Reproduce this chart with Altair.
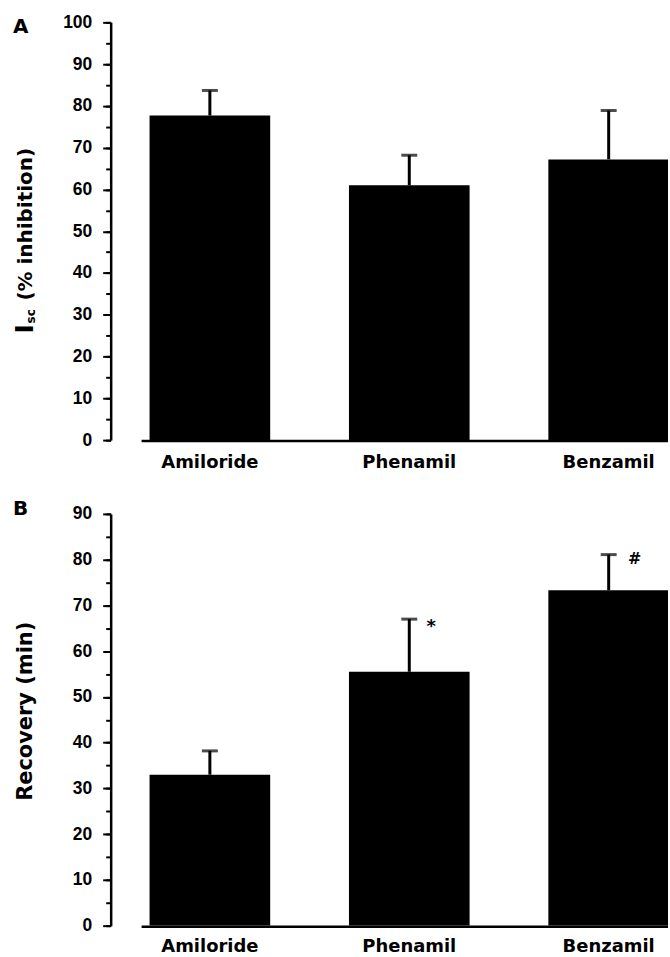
import altair as alt
import pandas as pd

# ---- data ----
categories = ["Amiloride", "Phenamil", "Benzamil"]
inhibition_mean = [77.7, 61.0, 67.2]
inhibition_sem = [6.0, 7.2, 11.7]
recovery_mean = [33.0, 55.5, 73.3]
recovery_sem = [5.2, 11.5, 7.8]
recovery_marks = ["", "*", "#"]

inhib_major = list(range(0, 101, 10))
inhib_minor = list(range(0, 101, 5))
recov_major = list(range(0, 91, 10))
recov_minor = list(range(0, 91, 5))

PLOT_W = 559
BOLD_SANS = "DejaVu Sans"
TICK_FONT = "Liberation Sans"


def frame(means, sems, marks):
    return pd.DataFrame({
        "cat": categories,
        "mean": means,
        "upper": [m + s for m, s in zip(means, sems)],
        "mark": marks,
    })


def xenc():
    scale = alt.Scale(domain=categories, range=[0, 599],
                      paddingInner=0.395, paddingOuter=0.195)
    return alt.X("cat:N", sort=categories, scale=scale, axis=None)


def panel(df, ymax, major, minor, height, label_pad, title_layers, panel_letter, letter_y):
    yscale = alt.Scale(domain=[0, ymax], nice=False, zero=True)
    major_axis = alt.Axis(orient="left", title=None, values=major, grid=False,
                          domainColor="black", domainWidth=2.5,
                          tickColor="black", tickWidth=2, tickSize=8,
                          labelFont=TICK_FONT, labelFontWeight="bold",
                          labelFontSize=17.5, labelColor="black", labelPadding=11)
    minor_axis = alt.Axis(orient="left", title=None, values=minor, grid=False,
                          domain=False, labels=False,
                          tickColor="black", tickWidth=2, tickSize=5)
    base = alt.Chart(df)
    bars = base.mark_bar(color="black", clip=True).encode(
        x=xenc(),
        y=alt.Y("mean:Q", scale=yscale, axis=major_axis),
    )
    stems = base.mark_rule(color="black", strokeWidth=3).encode(
        x=xenc(),
        y=alt.Y("mean:Q", scale=yscale, axis=minor_axis),
        y2="upper:Q",
    )
    caps = base.mark_tick(color="black", size=16, thickness=3).encode(
        x=xenc(),
        y=alt.Y("upper:Q", scale=yscale, axis=None),
    )
    xlabels = base.mark_text(
        font=BOLD_SANS, fontWeight="bold", fontSize=18, color="black",
        align="center", baseline="top"
    ).encode(x=xenc(), y=alt.value(height + label_pad), text="cat:N")
    baseline = alt.Chart(pd.DataFrame({"k": [0]})).mark_rule(
        color="black", strokeWidth=2.5
    ).encode(x=alt.value(31), x2=alt.value(PLOT_W),
             y=alt.value(height + 1))
    letter = alt.Chart(pd.DataFrame({"t": [panel_letter]})).mark_text(
        font=BOLD_SANS, fontWeight="bold", fontSize=20, color="black",
        align="left", baseline="alphabetic"
    ).encode(x=alt.value(-98), y=alt.value(letter_y), text="t:N")
    layers = [bars, stems, caps, xlabels, baseline, letter] + title_layers(df, yscale)
    return alt.layer(*layers).resolve_axis(y="independent").properties(
        width=PLOT_W, height=height)


def top_titles(df, yscale):
    i_txt = alt.Chart(pd.DataFrame({"t": ["I"]})).mark_text(
        font=BOLD_SANS, fontWeight="bold", fontSize=25, color="black",
        angle=270, align="left", baseline="alphabetic"
    ).encode(x=alt.value(-78), y=alt.value(312), text="t:N")
    sc_txt = alt.Chart(pd.DataFrame({"t": ["sc"]})).mark_text(
        font=BOLD_SANS, fontWeight="bold", fontSize=12, color="black",
        angle=270, align="left", baseline="alphabetic"
    ).encode(x=alt.value(-76), y=alt.value(302), text="t:N")
    rest = alt.Chart(pd.DataFrame({"t": ["(% inhibition)"]})).mark_text(
        font=BOLD_SANS, fontWeight="bold", fontSize=20, color="black",
        angle=270, align="left", baseline="alphabetic"
    ).encode(x=alt.value(-79), y=alt.value(279), text="t:N")
    return [i_txt, sc_txt, rest]


def bottom_titles(df, yscale):
    ttl = alt.Chart(pd.DataFrame({"t": ["Recovery (min)"]})).mark_text(
        font=BOLD_SANS, fontWeight="bold", fontSize=21, color="black",
        angle=270, align="center", baseline="alphabetic"
    ).encode(x=alt.value(-79), y=alt.value(198), text="t:N")
    star = alt.Chart(df).transform_filter(alt.datum.mark == "*").mark_text(
        font=BOLD_SANS, fontWeight="bold", fontSize=18, color="black",
        align="center", baseline="alphabetic", dx=22, dy=13
    ).encode(x=xenc(),
             y=alt.Y("upper:Q", scale=yscale, axis=None), text="mark:N")
    hash_ = alt.Chart(df).transform_filter(alt.datum.mark == "#").mark_text(
        font=BOLD_SANS, fontWeight="bold", fontSize=16, color="black",
        align="center", baseline="alphabetic", dx=26, dy=9
    ).encode(x=xenc(),
             y=alt.Y("upper:Q", scale=yscale, axis=None), text="mark:N")
    return [ttl, star, hash_]


top = panel(frame(inhibition_mean, inhibition_sem, ["", "", ""]), 100,
            inhib_major, inhib_minor, 419, 14, top_titles, "A", 11)
bottom = panel(frame(recovery_mean, recovery_sem, recovery_marks), 90,
               recov_major, recov_minor, 413, 12, bottom_titles, "B", 1)

chart = alt.vconcat(top, bottom, spacing=27).configure_view(
    stroke=None
).properties(
    padding={"left": 13, "top": 12, "right": 0, "bottom": 0},
    background="white",
)

chart.save("out.html", embed_options={"renderer": "svg", "actions": False})
